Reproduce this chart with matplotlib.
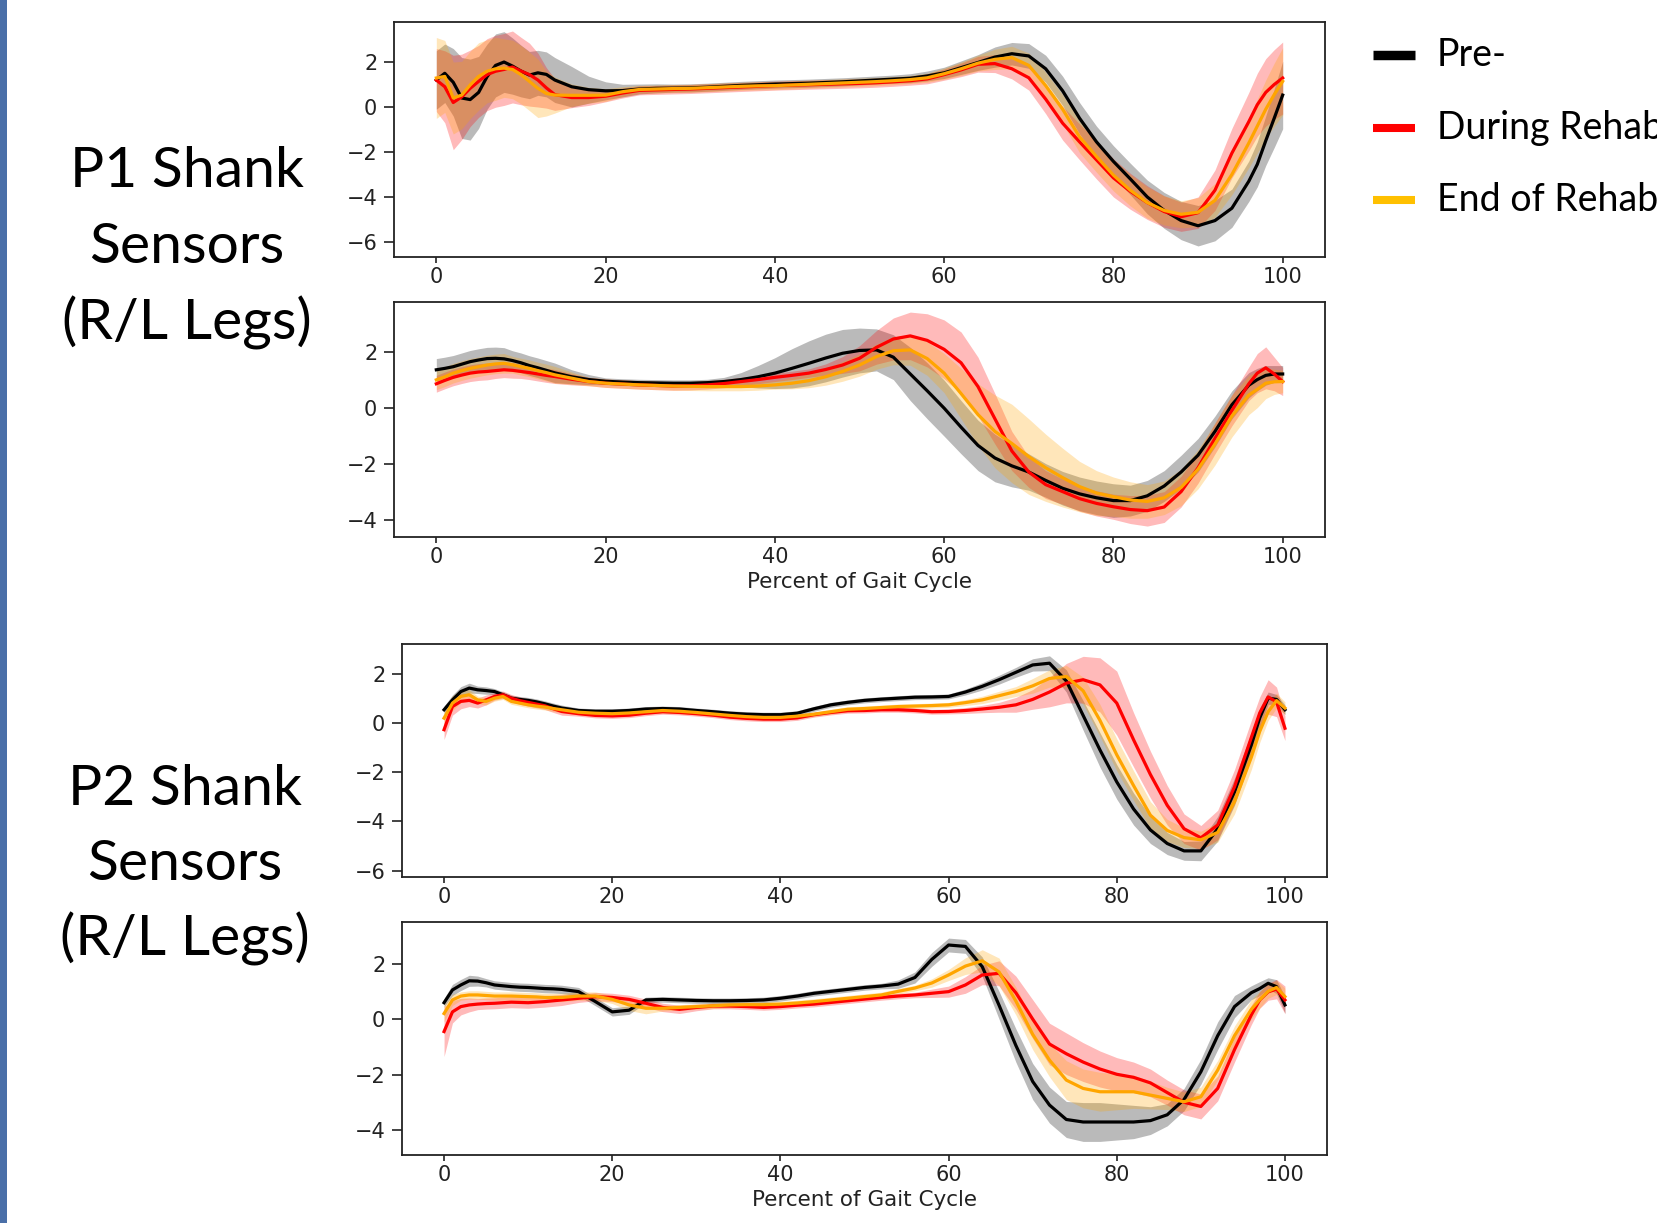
import matplotlib
matplotlib.use("Agg")
import matplotlib.pyplot as plt
import numpy as np
from matplotlib.lines import Line2D
from matplotlib.patches import Rectangle

# ---------------- data ----------------
X = [0, 1, 2, 3, 4, 5, 6, 7, 8, 9, 10, 11, 12, 13, 14,
     16, 18, 20, 22, 24, 26, 28, 30, 32, 34, 36, 38, 40, 42, 44, 46, 48, 50, 52, 54, 56,
     58, 60, 62, 64, 66, 68, 70, 72, 74, 76, 78, 80, 82, 84, 86, 88, 90, 92, 94, 96,
     97, 98, 99, 100]

# P1 shank, right leg
P1R_pre = [1.20, 1.50, 1.10, 0.40, 0.33, 0.65, 1.35, 1.85, 2.00, 1.82, 1.60, 1.42, 1.52, 1.45, 1.20,
           0.90, 0.77, 0.72, 0.73, 0.80, 0.83, 0.84, 0.85, 0.88, 0.92, 0.96, 0.99, 1.02, 1.04, 1.06, 1.09, 1.12, 1.16, 1.20, 1.24, 1.28,
           1.38, 1.52, 1.75, 1.98, 2.22, 2.37, 2.27, 1.70, 0.72, -0.50, -1.55, -2.42, -3.20, -4.00, -4.60, -5.05, -5.28, -5.05, -4.50, -3.30,
           -2.55, -1.50, -0.50, 0.53]
P1R_pre_sd = [1.30, 1.30, 1.50, 1.80, 1.80, 1.60, 1.45, 1.40, 1.35, 1.25, 1.15, 1.05, 1.00, 1.00, 1.00,
              0.90, 0.60, 0.40, 0.28, 0.22, 0.20, 0.18, 0.18, 0.18, 0.18, 0.18, 0.18, 0.18, 0.18, 0.18, 0.18, 0.18, 0.18, 0.18, 0.18, 0.20,
              0.22, 0.25, 0.30, 0.35, 0.45, 0.50, 0.55, 0.60, 0.65, 0.70, 0.70, 0.70, 0.70, 0.75, 0.80, 0.85, 0.90, 0.90, 0.85, 0.90,
              1.00, 1.10, 1.30, 1.50]
P1R_dur = [1.20, 0.90, 0.20, 0.45, 0.83, 1.14, 1.44, 1.59, 1.67, 1.78, 1.60, 1.44, 1.20, 0.85, 0.55,
           0.42, 0.42, 0.48, 0.62, 0.74, 0.76, 0.78, 0.80, 0.83, 0.86, 0.89, 0.92, 0.95, 0.97, 0.99, 1.01, 1.03, 1.05, 1.08, 1.12, 1.17,
           1.25, 1.44, 1.65, 1.90, 1.93, 1.70, 1.30, 0.35, -0.72, -1.55, -2.35, -3.15, -3.75, -4.25, -4.65, -4.88, -4.70, -3.70, -2.05, -0.65,
           0.10, 0.65, 1.00, 1.29]
P1R_dur_sd = [1.40, 1.60, 2.10, 1.90, 1.70, 1.60, 1.60, 1.60, 1.60, 1.60, 1.50, 1.40, 1.20, 0.90, 0.70,
              0.45, 0.35, 0.25, 0.22, 0.20, 0.20, 0.20, 0.20, 0.20, 0.20, 0.20, 0.20, 0.20, 0.20, 0.20, 0.20, 0.20, 0.20, 0.20, 0.20, 0.20,
              0.22, 0.25, 0.30, 0.35, 0.40, 0.45, 0.55, 0.65, 0.75, 0.80, 0.85, 0.85, 0.80, 0.75, 0.70, 0.65, 0.70, 0.90, 1.10, 1.30,
              1.40, 1.50, 1.55, 1.60]
P1R_end = [1.29, 1.36, 0.40, 0.53, 0.98, 1.36, 1.59, 1.70, 1.73, 1.67, 1.44, 1.14, 0.83, 0.60, 0.53,
           0.52, 0.52, 0.53, 0.68, 0.78, 0.80, 0.82, 0.83, 0.86, 0.89, 0.92, 0.94, 0.95, 0.98, 1.01, 1.04, 1.07, 1.10, 1.13, 1.17, 1.22,
           1.30, 1.48, 1.70, 1.95, 2.12, 2.20, 1.85, 0.95, -0.10, -1.33, -2.20, -3.03, -3.70, -4.25, -4.60, -4.77, -4.68, -4.15, -3.00, -1.60,
           -0.85, -0.10, 0.55, 1.14]
P1R_end_sd = [1.80, 1.60, 1.60, 1.50, 1.50, 1.50, 1.40, 1.40, 1.30, 1.30, 1.30, 1.30, 1.30, 1.00, 0.80,
              0.50, 0.35, 0.28, 0.22, 0.18, 0.18, 0.18, 0.18, 0.18, 0.18, 0.18, 0.18, 0.18, 0.18, 0.18, 0.18, 0.18, 0.18, 0.18, 0.18, 0.18,
              0.20, 0.25, 0.30, 0.35, 0.45, 0.50, 0.55, 0.60, 0.65, 0.70, 0.70, 0.70, 0.70, 0.70, 0.65, 0.60, 0.65, 0.75, 0.90, 1.10,
              1.20, 1.30, 1.40, 1.50]

# P1 shank, left leg
P1L_pre = [1.35, 1.40, 1.46, 1.55, 1.64, 1.70, 1.75, 1.76, 1.74, 1.68, 1.60, 1.50, 1.42, 1.33, 1.24,
           1.10, 1.00, 0.94, 0.91, 0.89, 0.88, 0.87, 0.87, 0.89, 0.93, 1.00, 1.10, 1.23, 1.40, 1.58, 1.77, 1.94, 2.04, 2.06, 1.80, 1.20,
           0.60, -0.02, -0.70, -1.35, -1.80, -2.08, -2.30, -2.60, -2.88, -3.08, -3.22, -3.32, -3.32, -3.15, -2.80, -2.30, -1.70, -0.85, 0.10, 0.80,
           1.00, 1.15, 1.20, 1.20]
P1L_pre_sd = [0.40, 0.40, 0.40, 0.40, 0.40, 0.40, 0.40, 0.40, 0.40, 0.35, 0.35, 0.35, 0.35, 0.35, 0.35,
              0.25, 0.18, 0.12, 0.12, 0.12, 0.12, 0.12, 0.12, 0.12, 0.15, 0.25, 0.40, 0.55, 0.70, 0.80, 0.85, 0.85, 0.80, 0.75, 0.80, 0.95,
              1.00, 1.00, 0.95, 0.90, 0.85, 0.75, 0.65, 0.60, 0.60, 0.60, 0.60, 0.60, 0.55, 0.55, 0.55, 0.60, 0.60, 0.55, 0.50, 0.45,
              0.40, 0.35, 0.30, 0.30]
P1L_dur = [0.85, 0.97, 1.08, 1.16, 1.23, 1.27, 1.29, 1.32, 1.35, 1.33, 1.29, 1.25, 1.20, 1.15, 1.11,
           1.01, 0.93, 0.87, 0.84, 0.81, 0.79, 0.77, 0.78, 0.81, 0.86, 0.93, 1.00, 1.08, 1.15, 1.23, 1.36, 1.52, 1.76, 2.15, 2.45, 2.56,
           2.40, 2.08, 1.60, 0.75, -0.40, -1.55, -2.30, -2.75, -3.00, -3.25, -3.42, -3.54, -3.64, -3.68, -3.55, -3.00, -2.15, -1.10, -0.10, 0.85,
           1.23, 1.42, 1.20, 0.93]
P1L_dur_sd = [0.30, 0.30, 0.30, 0.30, 0.30, 0.30, 0.30, 0.28, 0.28, 0.28, 0.25, 0.25, 0.25, 0.25, 0.25,
              0.20, 0.15, 0.15, 0.15, 0.15, 0.15, 0.15, 0.15, 0.15, 0.15, 0.15, 0.15, 0.15, 0.15, 0.15, 0.20, 0.30, 0.45, 0.60, 0.75, 0.85,
              0.95, 1.05, 1.10, 1.05, 0.90, 0.70, 0.55, 0.50, 0.45, 0.45, 0.45, 0.45, 0.50, 0.55, 0.55, 0.55, 0.55, 0.55, 0.55, 0.60,
              0.70, 0.75, 0.60, 0.50]
P1L_end = [0.99, 1.10, 1.23, 1.32, 1.40, 1.46, 1.52, 1.56, 1.58, 1.53, 1.46, 1.40, 1.32, 1.25, 1.17,
           1.05, 0.93, 0.87, 0.84, 0.81, 0.79, 0.77, 0.76, 0.75, 0.75, 0.75, 0.77, 0.81, 0.87, 0.96, 1.10, 1.29, 1.52, 1.82, 2.03, 2.06,
           1.75, 1.23, 0.50, -0.25, -0.85, -1.28, -1.75, -2.15, -2.50, -2.82, -3.05, -3.18, -3.30, -3.35, -3.22, -2.85, -2.20, -1.30, -0.30, 0.45,
           0.65, 0.87, 0.92, 0.93]
P1L_end_sd = [0.35, 0.35, 0.35, 0.35, 0.35, 0.35, 0.35, 0.35, 0.35, 0.30, 0.30, 0.30, 0.30, 0.30, 0.30,
              0.22, 0.15, 0.15, 0.15, 0.15, 0.15, 0.15, 0.15, 0.15, 0.15, 0.15, 0.15, 0.15, 0.20, 0.25, 0.30, 0.35, 0.40, 0.45, 0.50, 0.55,
              0.60, 0.70, 0.90, 1.10, 1.30, 1.40, 1.35, 1.20, 1.05, 0.90, 0.80, 0.70, 0.65, 0.60, 0.60, 0.65, 0.70, 0.75, 0.75, 0.70,
              0.65, 0.55, 0.45, 0.40]

# P2 shank, right leg
P2R_pre = [0.53, 0.93, 1.27, 1.41, 1.34, 1.31, 1.27, 1.14, 1.00, 0.95, 0.91, 0.85, 0.77, 0.68, 0.60,
           0.50, 0.47, 0.47, 0.50, 0.56, 0.58, 0.56, 0.50, 0.45, 0.39, 0.35, 0.33, 0.33, 0.39, 0.57, 0.73, 0.83, 0.91, 0.96, 1.00, 1.04,
           1.05, 1.07, 1.25, 1.48, 1.75, 2.05, 2.35, 2.42, 1.70, 0.30, -1.10, -2.40, -3.50, -4.35, -4.90, -5.20, -5.20, -4.30, -2.80, -0.90,
           0.20, 1.00, 0.95, 0.53]
P2R_pre_sd = [0.15, 0.20, 0.20, 0.20, 0.15, 0.15, 0.12, 0.12, 0.12, 0.12, 0.12, 0.12, 0.12, 0.12, 0.12,
              0.10, 0.10, 0.10, 0.10, 0.10, 0.10, 0.10, 0.10, 0.10, 0.10, 0.10, 0.10, 0.10, 0.10, 0.10, 0.10, 0.10, 0.10, 0.10, 0.10, 0.10,
              0.10, 0.10, 0.12, 0.15, 0.18, 0.20, 0.25, 0.30, 0.45, 0.60, 0.70, 0.70, 0.65, 0.55, 0.45, 0.38, 0.40, 0.50, 0.55, 0.50,
              0.40, 0.25, 0.20, 0.20]
P2R_dur = [-0.28, 0.66, 0.87, 0.91, 0.80, 0.93, 1.07, 1.14, 1.00, 0.90, 0.83, 0.76, 0.69, 0.57, 0.46,
           0.37, 0.30, 0.28, 0.31, 0.39, 0.45, 0.42, 0.37, 0.31, 0.23, 0.18, 0.15, 0.15, 0.20, 0.33, 0.42, 0.49, 0.50, 0.53, 0.53, 0.50,
           0.45, 0.46, 0.50, 0.56, 0.63, 0.73, 0.95, 1.25, 1.61, 1.75, 1.54, 0.80, -0.69, -2.10, -3.35, -4.30, -4.67, -4.15, -2.60, -0.60,
           0.40, 1.05, 0.85, -0.22]
P2R_dur_sd = [0.40, 0.35, 0.30, 0.25, 0.20, 0.20, 0.15, 0.15, 0.15, 0.15, 0.15, 0.15, 0.15, 0.15, 0.15,
              0.10, 0.10, 0.10, 0.10, 0.10, 0.10, 0.10, 0.10, 0.10, 0.10, 0.10, 0.10, 0.10, 0.10, 0.10, 0.10, 0.10, 0.10, 0.10, 0.10, 0.10,
              0.10, 0.10, 0.12, 0.15, 0.20, 0.30, 0.40, 0.60, 0.80, 0.95, 1.10, 1.30, 1.10, 0.95, 0.80, 0.60, 0.50, 0.60, 0.70, 0.70,
              0.65, 0.70, 0.60, 0.50]
P2R_end = [0.19, 0.80, 1.07, 1.14, 0.93, 0.87, 1.00, 1.07, 0.87, 0.80, 0.73, 0.68, 0.64, 0.58, 0.53,
           0.43, 0.39, 0.37, 0.40, 0.45, 0.50, 0.47, 0.42, 0.36, 0.30, 0.25, 0.22, 0.22, 0.27, 0.35, 0.45, 0.55, 0.58, 0.62, 0.66, 0.68,
           0.70, 0.73, 0.82, 0.93, 1.10, 1.27, 1.50, 1.80, 1.88, 1.30, 0.10, -1.30, -2.55, -3.75, -4.37, -4.66, -4.75, -4.45, -3.20, -1.40,
           -0.35, 0.45, 0.90, 0.60]
P2R_end_sd = [0.30, 0.30, 0.25, 0.20, 0.15, 0.15, 0.12, 0.12, 0.12, 0.12, 0.12, 0.12, 0.12, 0.12, 0.12,
              0.10, 0.10, 0.10, 0.10, 0.10, 0.10, 0.10, 0.10, 0.10, 0.10, 0.10, 0.10, 0.10, 0.10, 0.10, 0.10, 0.10, 0.10, 0.10, 0.10, 0.10,
              0.10, 0.10, 0.12, 0.15, 0.18, 0.20, 0.30, 0.35, 0.45, 0.55, 0.65, 0.65, 0.60, 0.55, 0.45, 0.40, 0.35, 0.40, 0.50, 0.50,
              0.45, 0.35, 0.30, 0.25]

# P2 shank, left leg
P2L_pre = [0.59, 1.05, 1.23, 1.38, 1.37, 1.31, 1.23, 1.20, 1.17, 1.15, 1.14, 1.12, 1.10, 1.09, 1.07,
           0.99, 0.63, 0.26, 0.32, 0.69, 0.71, 0.69, 0.67, 0.66, 0.66, 0.67, 0.69, 0.75, 0.83, 0.93, 1.00, 1.07, 1.14, 1.19, 1.26, 1.50,
           2.15, 2.67, 2.62, 1.89, 0.50, -0.95, -2.25, -3.10, -3.62, -3.71, -3.71, -3.71, -3.71, -3.66, -3.45, -2.90, -1.90, -0.60, 0.45, 0.95,
           1.10, 1.29, 1.17, 0.51]
P2L_pre_sd = [0.15, 0.20, 0.20, 0.20, 0.18, 0.15, 0.15, 0.15, 0.15, 0.15, 0.15, 0.15, 0.15, 0.15, 0.15,
              0.15, 0.15, 0.15, 0.15, 0.10, 0.10, 0.10, 0.10, 0.10, 0.10, 0.10, 0.10, 0.10, 0.10, 0.10, 0.10, 0.10, 0.10, 0.10, 0.15, 0.20,
              0.25, 0.25, 0.25, 0.35, 0.50, 0.60, 0.65, 0.65, 0.65, 0.70, 0.70, 0.65, 0.60, 0.50, 0.40, 0.40, 0.45, 0.50, 0.40, 0.25,
              0.25, 0.20, 0.25, 0.30]
P2L_dur = [-0.45, 0.26, 0.45, 0.51, 0.54, 0.56, 0.57, 0.59, 0.61, 0.60, 0.59, 0.61, 0.63, 0.66, 0.69,
           0.75, 0.81, 0.78, 0.71, 0.57, 0.42, 0.35, 0.42, 0.47, 0.47, 0.45, 0.42, 0.45, 0.50, 0.54, 0.60, 0.66, 0.72, 0.78, 0.83, 0.87,
           0.93, 0.99, 1.23, 1.59, 1.65, 0.95, 0.00, -0.90, -1.25, -1.55, -1.80, -1.99, -2.10, -2.30, -2.65, -3.00, -3.15, -2.50, -1.10, 0.15,
           0.69, 0.98, 1.08, 0.69]
P2L_dur_sd = [0.90, 0.40, 0.30, 0.25, 0.20, 0.20, 0.20, 0.20, 0.20, 0.20, 0.20, 0.20, 0.20, 0.20, 0.20,
              0.15, 0.15, 0.15, 0.15, 0.15, 0.15, 0.15, 0.12, 0.10, 0.10, 0.10, 0.10, 0.10, 0.10, 0.10, 0.10, 0.10, 0.10, 0.10, 0.10, 0.10,
              0.15, 0.20, 0.30, 0.35, 0.45, 0.60, 0.70, 0.75, 0.75, 0.70, 0.65, 0.60, 0.55, 0.50, 0.45, 0.45, 0.45, 0.45, 0.45, 0.35,
              0.30, 0.30, 0.35, 0.50]
P2L_end = [0.20, 0.69, 0.83, 0.87, 0.87, 0.85, 0.83, 0.83, 0.83, 0.82, 0.81, 0.80, 0.78, 0.78, 0.78,
           0.83, 0.83, 0.71, 0.51, 0.39, 0.39, 0.42, 0.45, 0.48, 0.51, 0.52, 0.52, 0.54, 0.58, 0.63, 0.69, 0.75, 0.81, 0.87, 1.00, 1.12,
           1.30, 1.59, 1.91, 2.10, 1.70, 0.65, -0.55, -1.48, -2.20, -2.50, -2.62, -2.62, -2.62, -2.74, -2.86, -2.98, -2.80, -1.84, -0.60, 0.35,
           0.70, 1.00, 1.14, 0.81]
P2L_end_sd = [0.30, 0.20, 0.15, 0.15, 0.15, 0.15, 0.15, 0.15, 0.15, 0.15, 0.15, 0.15, 0.15, 0.15, 0.15,
              0.15, 0.15, 0.15, 0.20, 0.20, 0.10, 0.10, 0.10, 0.10, 0.10, 0.10, 0.10, 0.10, 0.10, 0.10, 0.10, 0.10, 0.10, 0.10, 0.10, 0.10,
              0.15, 0.20, 0.30, 0.40, 0.50, 0.50, 0.55, 0.60, 0.70, 0.70, 0.70, 0.65, 0.60, 0.50, 0.40, 0.35, 0.35, 0.35, 0.35, 0.35,
              0.30, 0.25, 0.25, 0.30]

SERIES_LABELS = ["Pre-", "During Rehab", "End of Rehab"]
LINE_COLORS = ["black", "red", "orange"]
LEGEND_COLORS = ["black", "#ff0000", "#ffc000"]
XTICKS = [0, 20, 40, 60, 80, 100]
GROUP_LABELS = [["P1 Shank", "Sensors", "(R/L Legs)"], ["P2 Shank", "Sensors", "(R/L Legs)"]]
XLABEL = "Percent of Gait Cycle"

# ---------------- figure ----------------
W, H = 1658, 1223
fig = plt.figure(figsize=(W / 100, H / 100), dpi=100)

def fx(px):
    return px / W

def fy(py):
    return 1 - py / H

def make_axes(left, top, right, bottom):
    return fig.add_axes([fx(left), fy(bottom), fx(right - left), (bottom - top) / H])

panels = [
    dict(box=(394, 22, 1325, 257), ylim=(-6.67, 3.78), yticks=[-6, -4, -2, 0, 2],
         data=[(P1R_pre, P1R_pre_sd), (P1R_dur, P1R_dur_sd), (P1R_end, P1R_end_sd)], xlabel=False),
    dict(box=(394, 302, 1325, 537), ylim=(-4.62, 3.77), yticks=[-4, -2, 0, 2],
         data=[(P1L_pre, P1L_pre_sd), (P1L_dur, P1L_dur_sd), (P1L_end, P1L_end_sd)], xlabel=True),
    dict(box=(402, 644, 1327, 877), ylim=(-6.26, 3.2), yticks=[-6, -4, -2, 0, 2],
         data=[(P2R_pre, P2R_pre_sd), (P2R_dur, P2R_dur_sd), (P2R_end, P2R_end_sd)], xlabel=False),
    dict(box=(402, 922, 1327, 1155), ylim=(-4.9, 3.5), yticks=[-4, -2, 0, 2],
         data=[(P2L_pre, P2L_pre_sd), (P2L_dur, P2L_dur_sd), (P2L_end, P2L_end_sd)], xlabel=True),
]

TICK_FS = 15
xarr = np.array(X, dtype=float)
for p in panels:
    ax = make_axes(*p["box"])
    for (m, s), c in zip(p["data"], LINE_COLORS):
        m = np.array(m, dtype=float)
        s = np.array(s, dtype=float)
        ax.fill_between(xarr, m - s, m + s, color=c, alpha=0.27, linewidth=0, zorder=1)
    for (m, s), c in zip(p["data"], LINE_COLORS):
        ax.plot(xarr, m, color=c, lw=2.3, zorder=2)
    ax.set_xlim(-5, 105)
    ax.set_ylim(*p["ylim"])
    ax.set_xticks(XTICKS)
    ax.set_yticks(p["yticks"])
    for sp in ax.spines.values():
        sp.set_linewidth(1.3)
        sp.set_color("#222222")
    ax.tick_params(axis="x", length=4.5, width=1.2, labelsize=TICK_FS, pad=3, colors="#222222")
    ax.tick_params(axis="y", length=7, width=1.2, labelsize=TICK_FS, pad=5, colors="#222222")
    if p["xlabel"]:
        ax.set_xlabel(XLABEL, fontsize=15.5, labelpad=3, color="#222222")

# left group labels
label_font = dict(family=["Lato", "DejaVu Sans"], fontsize=41, ha="center", va="baseline")
for lines, cx, baselines in [(GROUP_LABELS[0], 187, (187, 263, 340)),
                             (GROUP_LABELS[1], 185, (805, 880, 955))]:
    for t, by in zip(lines, baselines):
        fig.text(fx(cx), fy(by), t, **label_font)

# legend (manual, figure-level)
for lbl, col, ly, lw in zip(SERIES_LABELS, LEGEND_COLORS, (55, 128, 200), (6.8, 5.8, 5.8)):
    fig.add_artist(Line2D([fx(1373), fx(1415)], [fy(ly), fy(ly)], color=col, lw=lw,
                          solid_capstyle="butt", transform=fig.transFigure))
    fig.text(fx(1437), fy(ly + 11), lbl, family=["Lato", "DejaVu Sans"], fontsize=27,
             ha="left", va="baseline")

# blue bar at left edge
fig.add_artist(Rectangle((0, 0), fx(7), 1, transform=fig.transFigure,
                         facecolor="#4a6fa8", edgecolor="none"))

fig.savefig("out.png", dpi=100)
